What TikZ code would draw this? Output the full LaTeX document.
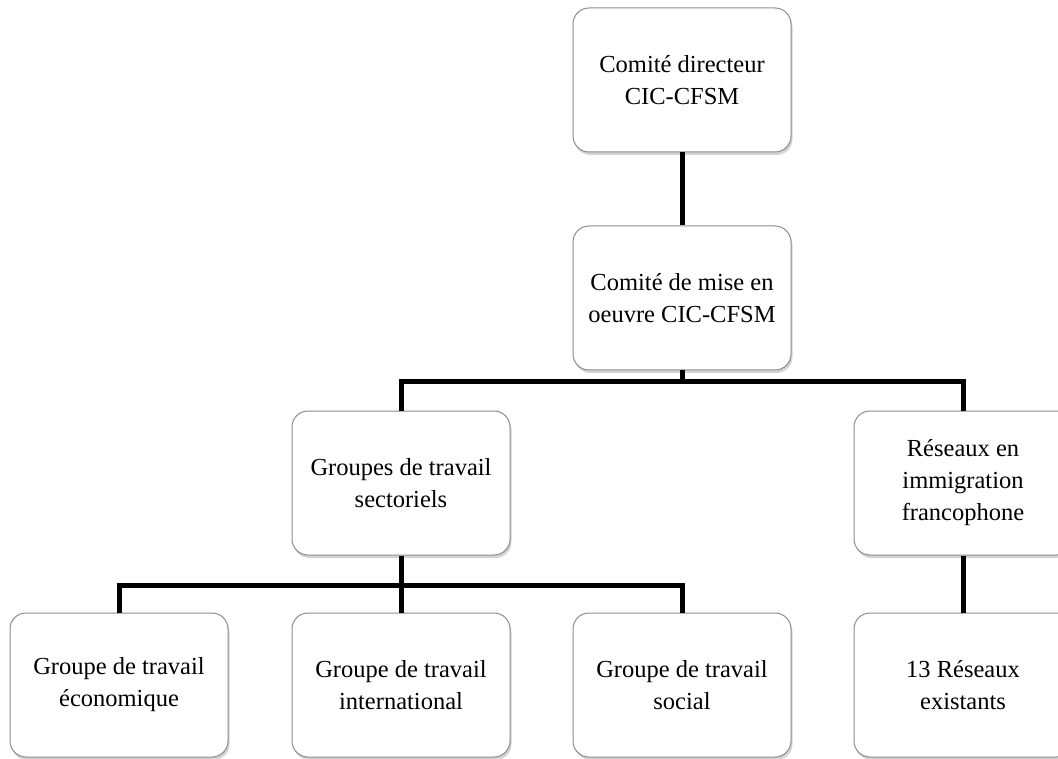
\documentclass[tikz,border=0pt]{standalone}
\usepackage{fontspec}
\setmainfont{Liberation Serif}
\usetikzlibrary{shadows}

\begin{document}
\begin{tikzpicture}[x=1pt,y=-1pt,
  every node/.style={font=\fontsize{24.5}{32}\selectfont},
  box/.style={draw=black!45,line width=1pt,fill=white,rounded corners=16pt,
    minimum width=218pt,minimum height=144pt,align=center,
    drop shadow={shadow xshift=1.5pt,shadow yshift=-3pt,opacity=0.35}},
  link/.style={line width=5pt,line join=miter}]
\useasboundingbox (0,0) rectangle (1058,759);
    % niveau 1 et 2
    \node[box] (dir) at (682,80) {Comit\'e directeur\\CIC-CFSM};
    \node[box] (mise) at (682,298) {Comit\'e de mise en\\oeuvre CIC-CFSM};
    % niveau 3
    \node[box] (sect) at (401,483) {Groupes de travail\\sectoriels};
    \node[box] (res) at (963,483) {R\'eseaux en\\immigration\\francophone};
    % niveau 4
    \node[box] (eco) at (119,685) {Groupe de travail\\\'economique};
    \node[box] (inter) at (401,685) {Groupe de travail\\international};
    \node[box] (soc) at (682,685) {Groupe de travail\\social};
    \node[box] (exist) at (963,685) {13 R\'eseaux\\existants};
    \coordinate (j1) at (682,382);
    \coordinate (j2) at (401,585);
    \draw[link] (dir) -- (mise);
    \draw[link] (mise) -- (j1);
    \draw[link] (sect.north) |- (j1) -| (res.north);
    \draw[link] (sect) -- (j2);
    \draw[link] (eco.north) |- (j2) -| (soc.north);
    \draw[link] (j2) -- (inter);
    \draw[link] (res) -- (exist);
\end{tikzpicture}
\end{document}
